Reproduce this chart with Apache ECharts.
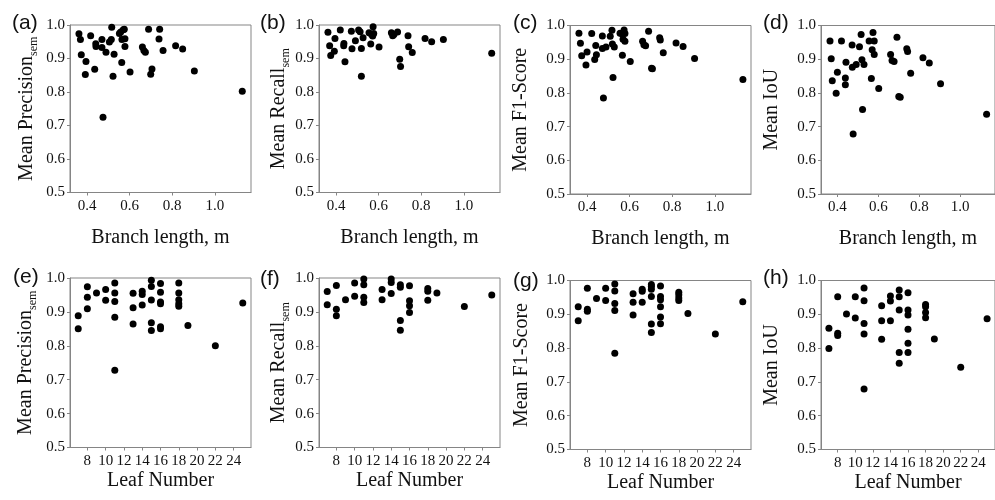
<!DOCTYPE html>
<html>
<head>
<meta charset="utf-8">
<script src="https://cdn.jsdelivr.net/npm/echarts@6/dist/echarts.min.js"></script>
<style>
  html, body { margin: 0; padding: 0; background: #fff; }
  #chart { width: 995px; height: 500px; }
</style>
</head>
<body>
<div id="chart"></div>
<script>
// tick labels
const branchTicks = [0.4, 0.6, 0.8, 1.0];
const leafTicks = [8, 10, 12, 14, 16, 18, 20, 22, 24];
const scoreTicks = [0.5, 0.6, 0.7, 0.8, 0.9, 1.0];

// branch length (m) vs. metric
const branchPrecision = [
  [0.362, 0.974], [0.369, 0.957], [0.373, 0.911], [0.395, 0.891], [0.392, 0.852], [0.417, 0.968],
  [0.436, 0.868], [0.441, 0.944], [0.442, 0.936], [0.470, 0.957], [0.470, 0.933], [0.489, 0.919],
  [0.475, 0.725], [0.516, 0.993], [0.505, 0.949], [0.514, 0.957], [0.522, 0.847], [0.527, 0.913],
  [0.552, 0.975], [0.558, 0.979], [0.570, 0.986], [0.575, 0.987], [0.564, 0.957], [0.578, 0.959],
  [0.563, 0.888], [0.578, 0.936], [0.602, 0.860], [0.689, 0.987], [0.660, 0.934], [0.667, 0.924],
  [0.674, 0.919], [0.705, 0.869], [0.699, 0.853], [0.738, 0.958], [0.741, 0.987], [0.757, 0.924],
  [0.816, 0.938], [0.849, 0.928], [0.904, 0.863], [1.129, 0.802]
];
const branchRecall = [
  [0.362, 0.978], [0.370, 0.938], [0.375, 0.909], [0.392, 0.922], [0.395, 0.960], [0.420, 0.985],
  [0.436, 0.938], [0.437, 0.945], [0.442, 0.890], [0.472, 0.981], [0.475, 0.929], [0.491, 0.953],
  [0.506, 0.985], [0.513, 0.980], [0.519, 0.930], [0.519, 0.847], [0.527, 0.962], [0.555, 0.977],
  [0.563, 0.943], [0.567, 0.972], [0.574, 0.995], [0.577, 0.975], [0.572, 0.967], [0.602, 0.934],
  [0.660, 0.977], [0.666, 0.968], [0.672, 0.972], [0.689, 0.979], [0.699, 0.898], [0.703, 0.876],
  [0.738, 0.968], [0.741, 0.935], [0.758, 0.918], [0.818, 0.960], [0.849, 0.950], [0.904, 0.957],
  [1.131, 0.916]
];
const branchF1 = [
  [0.362, 0.977], [0.369, 0.947], [0.375, 0.910], [0.395, 0.883], [0.400, 0.921], [0.422, 0.976],
  [0.436, 0.899], [0.441, 0.941], [0.444, 0.913], [0.472, 0.969], [0.472, 0.932], [0.489, 0.936],
  [0.477, 0.785], [0.509, 0.968], [0.517, 0.986], [0.519, 0.945], [0.528, 0.936], [0.522, 0.846],
  [0.555, 0.977], [0.566, 0.974], [0.574, 0.987], [0.578, 0.976], [0.566, 0.912], [0.569, 0.959],
  [0.578, 0.953], [0.603, 0.893], [0.661, 0.953], [0.667, 0.943], [0.675, 0.940], [0.689, 0.983],
  [0.703, 0.873], [0.707, 0.872], [0.741, 0.964], [0.744, 0.957], [0.758, 0.919], [0.818, 0.948],
  [0.851, 0.938], [0.905, 0.902], [1.132, 0.840]
];
const branchIoU = [
  [0.364, 0.954], [0.370, 0.901], [0.375, 0.836], [0.394, 0.799], [0.400, 0.861], [0.420, 0.954],
  [0.439, 0.844], [0.439, 0.824], [0.442, 0.891], [0.472, 0.942], [0.473, 0.876], [0.477, 0.678],
  [0.492, 0.884], [0.508, 0.937], [0.516, 0.973], [0.520, 0.898], [0.523, 0.751], [0.530, 0.884],
  [0.555, 0.954], [0.566, 0.843], [0.570, 0.928], [0.574, 0.979], [0.580, 0.954], [0.580, 0.914],
  [0.602, 0.813], [0.660, 0.914], [0.667, 0.896], [0.677, 0.893], [0.691, 0.965], [0.700, 0.789],
  [0.707, 0.787], [0.739, 0.931], [0.743, 0.923], [0.758, 0.858], [0.818, 0.904], [0.849, 0.889],
  [0.904, 0.827], [1.129, 0.737]
];

// leaf number vs. metric
const leafPrecision = [
  [7, 0.889], [7, 0.850], [8, 0.974], [8, 0.943], [8, 0.909], [9, 0.956], [10, 0.966], [10, 0.934],
  [11, 0.985], [11, 0.956], [11, 0.931], [11, 0.884], [11, 0.728], [13, 0.955], [13, 0.912], [13, 0.864],
  [14, 0.961], [14, 0.951], [14, 0.920], [15, 0.993], [15, 0.975], [15, 0.935], [15, 0.868], [15, 0.845],
  [16, 0.984], [16, 0.958], [16, 0.929], [16, 0.924], [16, 0.856], [16, 0.850], [18, 0.985], [18, 0.956],
  [18, 0.936], [18, 0.924], [18, 0.917], [19, 0.860], [22, 0.800], [25, 0.926]
];
const leafRecall = [
  [7, 0.960], [7, 0.921], [8, 0.978], [8, 0.908], [8, 0.889], [9, 0.936], [10, 0.985], [10, 0.946],
  [11, 0.997], [11, 0.980], [11, 0.943], [11, 0.928], [13, 0.966], [13, 0.936], [14, 0.997], [14, 0.987],
  [14, 0.954], [15, 0.980], [15, 0.973], [15, 0.875], [15, 0.846], [16, 0.977], [16, 0.933], [16, 0.918],
  [16, 0.898], [18, 0.969], [18, 0.961], [18, 0.934], [19, 0.956], [22, 0.916], [25, 0.950]
];
const leafF1 = [
  [7, 0.922], [7, 0.881], [8, 0.977], [8, 0.915], [8, 0.909], [9, 0.947], [10, 0.977], [10, 0.941],
  [11, 0.990], [11, 0.969], [11, 0.932], [11, 0.911], [11, 0.785], [13, 0.961], [13, 0.936], [13, 0.898],
  [14, 0.974], [14, 0.968], [14, 0.936], [15, 0.988], [15, 0.982], [15, 0.974], [15, 0.953], [15, 0.871],
  [15, 0.846], [16, 0.984], [16, 0.953], [16, 0.943], [16, 0.922], [16, 0.892], [16, 0.872], [18, 0.965],
  [18, 0.958], [18, 0.948], [18, 0.941], [19, 0.902], [22, 0.842], [25, 0.937]
];
const leafIoU = [
  [7, 0.859], [7, 0.799], [8, 0.952], [8, 0.844], [8, 0.837], [9, 0.901], [10, 0.952], [10, 0.889],
  [11, 0.978], [11, 0.940], [11, 0.873], [11, 0.842], [11, 0.679], [13, 0.925], [13, 0.881], [13, 0.826],
  [14, 0.954], [14, 0.939], [14, 0.881], [15, 0.972], [15, 0.952], [15, 0.913], [15, 0.787], [15, 0.755],
  [16, 0.964], [16, 0.913], [16, 0.898], [16, 0.856], [16, 0.814], [16, 0.787], [18, 0.929], [18, 0.922],
  [18, 0.905], [18, 0.890], [19, 0.827], [22, 0.743], [25, 0.887]
];

const serif = "'Liberation Serif', 'Times New Roman', serif";
const sans = "'Liberation Sans', Arial, sans-serif";
const axisGray = "#858585";
const ink = "#111";

const xKinds = {
  branch: { name: "Branch length, m", min: 0.32, max: 1.17, ticks: branchTicks, fmt: (v) => v.toFixed(1) },
  leaf: { name: "Leaf Number", min: 6.1, max: 25.9, ticks: leafTicks, fmt: (v) => String(v) }
};

const panels = [
  { tag: "(a)", data: branchPrecision, kind: "branch", label: "Mean Precision", sub: "sem", left: 70, top: 25, height: 167.5, gap: 30, tagX: 12, tagY: 25 },
  { tag: "(b)", data: branchRecall, kind: "branch", label: "Mean Recall", sub: "sem", left: 319, top: 25, height: 167.5, gap: 27, tagX: 260, tagY: 25 },
  { tag: "(c)", data: branchF1, kind: "branch", label: "Mean F1-Score", sub: "", left: 570, top: 25.5, height: 168.5, gap: 36, tagX: 513, tagY: 25 },
  { tag: "(d)", data: branchIoU, kind: "branch", label: "Mean IoU", sub: "", left: 821, top: 25.5, height: 168.5, gap: 36, tagX: 763, tagY: 25 },
  { tag: "(e)", data: leafPrecision, kind: "leaf", label: "Mean Precision", sub: "sem", left: 70, top: 278, height: 169.5, gap: 31, tagX: 13, tagY: 278.5 },
  { tag: "(f)", data: leafRecall, kind: "leaf", label: "Mean Recall", sub: "sem", left: 319, top: 278, height: 169.5, gap: 26, tagX: 260, tagY: 281 },
  { tag: "(g)", data: leafF1, kind: "leaf", label: "Mean F1-Score", sub: "", left: 570, top: 280.5, height: 169, gap: 35, tagX: 513, tagY: 282.5 },
  { tag: "(h)", data: leafIoU, kind: "leaf", label: "Mean IoU", sub: "", left: 821, top: 280.5, height: 169, gap: 36, tagX: 763, tagY: 280 }
];

const chart = echarts.init(document.getElementById("chart"), null, { renderer: "canvas" });

chart.setOption({
  animation: false,
  backgroundColor: "#fff",
  grid: panels.map((p) => ({
    left: p.left,
    top: p.top,
    width: 181,
    height: p.height,
    show: true,
    borderColor: axisGray,
    borderWidth: 1,
    backgroundColor: "transparent"
  })),
  xAxis: panels.map((p, i) => {
    const k = xKinds[p.kind];
    return {
      type: "value",
      gridIndex: i,
      min: k.min,
      max: k.max,
      name: k.name,
      nameLocation: "middle",
      nameGap: p.kind === "branch" ? 35 : 23,
      nameTextStyle: { fontFamily: serif, fontSize: 20, color: ink },
      splitLine: { show: false },
      axisLine: { lineStyle: { color: axisGray, width: 1 } },
      axisTick: { show: true, length: 3, lineStyle: { color: axisGray }, customValues: k.ticks },
      axisLabel: {
        customValues: k.ticks,
        formatter: k.fmt,
        fontFamily: serif,
        fontSize: 15,
        color: ink,
        margin: 6
      }
    };
  }),
  yAxis: panels.map((p, i) => ({
    type: "value",
    gridIndex: i,
    min: 0.5,
    max: 1.0,
    name: p.sub ? `{m|${p.label}}{s|${p.sub}}` : `{m|${p.label}}`,
    nameLocation: "middle",
    nameRotate: 90,
    nameGap: p.gap,
    nameTextStyle: {
      color: ink,
      rich: {
        m: { fontFamily: serif, fontSize: 20, color: ink, verticalAlign: "bottom", lineHeight: 24, padding: [0, 0, 3, 0] },
        s: { fontFamily: serif, fontSize: 12, color: ink, verticalAlign: "bottom", lineHeight: 24 }
      }
    },
    splitLine: { show: false },
    axisLine: { lineStyle: { color: axisGray, width: 1 } },
    axisTick: { show: true, length: 3, lineStyle: { color: axisGray }, customValues: scoreTicks },
    axisLabel: {
      customValues: scoreTicks,
      formatter: (v) => v.toFixed(1),
      fontFamily: serif,
      fontSize: 15,
      color: ink,
      margin: 5
    }
  })),
  series: panels.map((p, i) => ({
    type: "scatter",
    xAxisIndex: i,
    yAxisIndex: i,
    data: p.data,
    symbol: "circle",
    symbolSize: 7,
    itemStyle: { color: "#000", opacity: 1 },
    silent: true
  })),
  graphic: panels.map((p) => ({
    type: "text",
    left: p.tagX,
    top: p.tagY - 12,
    style: { text: p.tag, fontFamily: sans, fontSize: 21, fill: ink }
  }))
});
</script>
</body>
</html>
